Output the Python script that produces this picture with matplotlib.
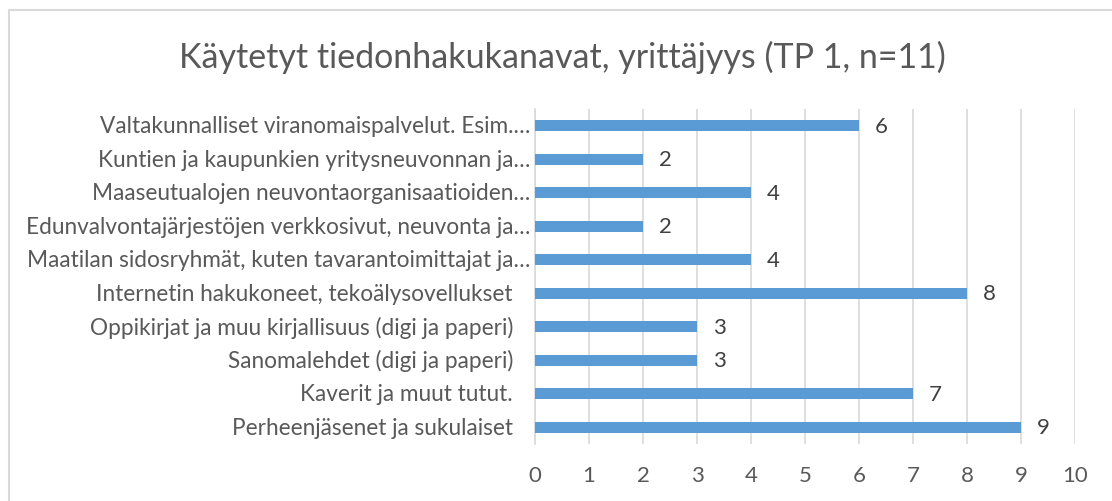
import matplotlib
matplotlib.use("Agg")
import matplotlib.pyplot as plt
import matplotlib.transforms as mtransforms
from matplotlib.patches import Rectangle

categories = [
    "Valtakunnalliset viranomaispalvelut. Esim.…",
    "Kuntien ja kaupunkien yritysneuvonnan ja…",
    "Maaseutualojen neuvontaorganisaatioiden…",
    "Edunvalvontajärjestöjen verkkosivut, neuvonta ja…",
    "Maatilan sidosryhmät, kuten tavarantoimittajat ja…",
    "Internetin hakukoneet, tekoälysovellukset",
    "Oppikirjat ja muu kirjallisuus (digi ja paperi)",
    "Sanomalehdet (digi ja paperi)",
    "Kaverit ja muut tutut.",
    "Perheenjäsenet ja sukulaiset",
]
values = [6, 2, 4, 2, 4, 8, 3, 3, 7, 9]
xticks = list(range(0, 11))
title = "Käytetyt tiedonhakukanavat, yrittäjyys (TP 1, n=11)"

plt.rcParams['font.family'] = ['Lato', 'DejaVu Sans']

W, H = 1112, 502
fig = plt.figure(figsize=(W / 100, H / 100), dpi=100)
fig.patch.set_facecolor("white")

# outer chart border (partially cut off at right/bottom)
fig.add_artist(Rectangle((9 / W, -0.1), 1.2, 1 - 11 / H + 0.1, transform=fig.transFigure,
                         fill=False, edgecolor="#d9d9d9", linewidth=1.5))

ax = fig.add_axes([535 / W, 1 - 445 / H, (1075 - 535) / W, (445 - 110) / H])
n = len(categories)
ypos = list(range(n))
ax.barh(ypos, values, height=0.34, color="#5b9bd5", zorder=3)
ax.set_ylim(n - 0.5, -0.5)
ax.set_xlim(0, 10)
ax.set_xticks(xticks)
ax.set_xticklabels([str(t) for t in xticks], fontsize=16, color="#595959")
ax.tick_params(axis="x", length=0, pad=15)
ax.set_yticks(ypos)
ax.set_yticklabels([])
ax.tick_params(axis="y", length=0)
ax.grid(axis="x", color="#d9d9d9", linewidth=1.2, zorder=0)
for s in ["top", "right", "bottom"]:
    ax.spines[s].set_visible(False)
ax.spines["left"].set_color("#d9d9d9")
ax.spines["left"].set_linewidth(1.2)

# category labels
for i, (lab, v) in enumerate(zip(categories, values)):
    truncated = lab.endswith("…")
    off = -5 if truncated else -22
    tr = mtransforms.offset_copy(ax.get_yaxis_transform(), fig=fig, x=off, y=0, units="dots")
    ax.text(0, i, lab, transform=tr, ha="right", va="center", fontsize=16.3, color="#595959")
    tr2 = mtransforms.offset_copy(ax.transData, fig=fig, x=16, y=0, units="dots")
    ax.text(v, i, str(v), transform=tr2, ha="left", va="center", fontsize=16, color="#404040")

fig.text(562 / W, 1 - 57 / H, title, ha="center", va="center", fontsize=24.5, color="#595959")

fig.savefig("out.png", dpi=100, facecolor="white")
